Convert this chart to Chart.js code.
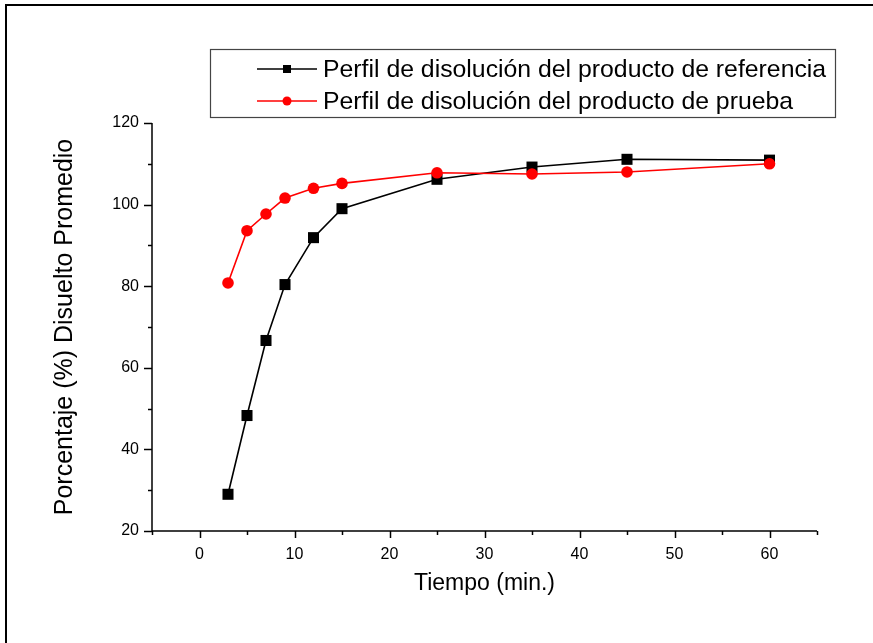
<!DOCTYPE html>
<html>
<head>
<meta charset="utf-8">
<script src="https://cdn.jsdelivr.net/npm/chart.js@4/dist/chart.umd.min.js"></script>
<style>
  html, body { margin: 0; padding: 0; background: #fff; }
  #wrap { width: 873px; height: 643px; position: relative; }
</style>
</head>
<body>
<div id="wrap"><canvas id="c" width="873" height="643"></canvas></div>
<script>
// Data
const tiempo = [3, 5, 7, 9, 12, 15, 25, 35, 45, 60];
const referencia = [29.0, 48.3, 66.7, 80.4, 91.9, 99.0, 106.2, 109.2, 111.1, 110.9];
const prueba = [80.8, 93.6, 97.7, 101.6, 104.0, 105.2, 107.8, 107.5, 108.0, 110.0];
const serieNombres = [
  'Perfil de disolución del producto de referencia',
  'Perfil de disolución del producto de prueba'
];
const xTitulo = 'Tiempo (min.)';
const yTitulo = 'Porcentaje (%) Disuelto Promedio';
const xTicksMayores = [0, 10, 20, 30, 40, 50, 60];
const yTicksMayores = [20, 40, 60, 80, 100, 120];

const FONT = '"Liberation Sans", Arial, sans-serif';

const toXY = (xs, ys) => xs.map((x, i) => ({ x: x, y: ys[i] }));

const customDraw = {
  id: 'customDraw',
  beforeDraw(chart) {
    const ctx = chart.ctx;
    ctx.save();
    ctx.fillStyle = '#fff';
    ctx.fillRect(0, 0, chart.width, chart.height);
    // outer frame (top and left edges)
    ctx.strokeStyle = '#000';
    ctx.lineWidth = 2;
    ctx.beginPath();
    ctx.moveTo(6, 643);
    ctx.lineTo(6, 5);
    ctx.lineTo(873, 5);
    ctx.stroke();
    ctx.restore();
  },
  afterDatasetsDraw(chart) {
    const ctx = chart.ctx;
    const xs = chart.scales.x, ys = chart.scales.y;
    const a = chart.chartArea;
    ctx.save();
    ctx.strokeStyle = '#000';
    ctx.lineWidth = 1.5;
    // axis lines
    ctx.beginPath();
    ctx.moveTo(a.left, a.top);
    ctx.lineTo(a.left, a.bottom);
    ctx.lineTo(a.right, a.bottom);
    ctx.stroke();
    // x ticks
    for (let v = xs.min; v <= xs.max + 1e-9; v += 5) {
      const px = Math.round(xs.getPixelForValue(v)) + 0.5;
      const len = (v % 10 === 0) ? 7 : 4;
      ctx.beginPath();
      ctx.moveTo(px, a.bottom);
      ctx.lineTo(px, a.bottom + len);
      ctx.stroke();
    }
    // y ticks
    for (let v = ys.min; v <= ys.max + 1e-9; v += 10) {
      const py = Math.round(ys.getPixelForValue(v)) + 0.5;
      const len = (v % 20 === 0) ? 8 : 4;
      ctx.beginPath();
      ctx.moveTo(a.left, py);
      ctx.lineTo(a.left - len, py);
      ctx.stroke();
    }
    // legend box
    const bx = 210, by = 49, bw = 625, bh = 68;
    ctx.fillStyle = '#fff';
    ctx.fillRect(bx, by, bw, bh);
    ctx.strokeStyle = '#444';
    ctx.lineWidth = 1.2;
    ctx.strokeRect(bx + 0.5, by + 0.5, bw, bh);
    const rows = [69, 101];
    chart.data.datasets.forEach((ds, i) => {
      const y = rows[i];
      ctx.strokeStyle = ds.borderColor;
      ctx.lineWidth = 1.5;
      ctx.beginPath();
      ctx.moveTo(257, y);
      ctx.lineTo(317, y);
      ctx.stroke();
      ctx.fillStyle = ds.pointBackgroundColor;
      if (ds.pointStyle === 'rect') {
        ctx.fillRect(287 - 4, y - 4, 8, 8);
      } else {
        ctx.beginPath();
        ctx.arc(287, y, 4.5, 0, Math.PI * 2);
        ctx.fill();
      }
      ctx.fillStyle = '#000';
      ctx.font = '24.8px ' + FONT;
      ctx.textBaseline = 'middle';
      ctx.textAlign = 'left';
      ctx.fillText(ds.label, 323, y + 1);
    });
    ctx.restore();
  }
};

new Chart(document.getElementById('c'), {
  type: 'line',
  data: {
    datasets: [
      {
        label: serieNombres[0],
        data: toXY(tiempo, referencia),
        borderColor: '#000000',
        backgroundColor: '#000000',
        pointBackgroundColor: '#000000',
        pointBorderColor: '#000000',
        pointStyle: 'rect',
        pointRadius: 7.8,
        pointBorderWidth: 0,
        borderWidth: 1.6,
        tension: 0,
        order: 2
      },
      {
        label: serieNombres[1],
        data: toXY(tiempo, prueba),
        borderColor: '#ff0000',
        backgroundColor: '#ff0000',
        pointBackgroundColor: '#ff0000',
        pointBorderColor: '#ff0000',
        pointStyle: 'circle',
        pointRadius: 5.8,
        pointBorderWidth: 0,
        borderWidth: 1.6,
        tension: 0,
        order: 1
      }
    ]
  },
  options: {
    responsive: false,
    animation: false,
    devicePixelRatio: 1,
    layout: { padding: { left: 0, right: 56, top: 123, bottom: 0 } },
    plugins: { legend: { display: false }, tooltip: { enabled: false } },
    scales: {
      x: {
        type: 'linear',
        min: -5,
        max: 65,
        border: { display: false },
        grid: { display: false, drawTicks: false },
        afterBuildTicks: (s) => { s.ticks = xTicksMayores.map(v => ({ value: v })); },
        afterFit: (s) => { s.height = 112; },
        ticks: {
          padding: 14,
          color: '#000',
          font: { family: FONT, size: 16 },
          maxRotation: 0,
          autoSkip: false
        },
        title: {
          display: true,
          text: xTitulo,
          color: '#000',
          font: { family: FONT, size: 23 },
          padding: { top: 0, bottom: 46 }
        }
      },
      y: {
        type: 'linear',
        min: 20,
        max: 120,
        border: { display: false },
        grid: { display: false, drawTicks: false },
        afterBuildTicks: (s) => { s.ticks = yTicksMayores.map(v => ({ value: v })); },
        afterFit: (s) => { s.width = 152; },
        ticks: {
          padding: 13,
          color: '#000',
          font: { family: FONT, size: 16 },
          autoSkip: false
        },
        title: {
          display: true,
          text: yTitulo,
          color: '#000',
          font: { family: FONT, size: 25 },
          padding: { top: 50, bottom: 0 }
        }
      }
    }
  },
  plugins: [customDraw]
});
</script>
</body>
</html>
